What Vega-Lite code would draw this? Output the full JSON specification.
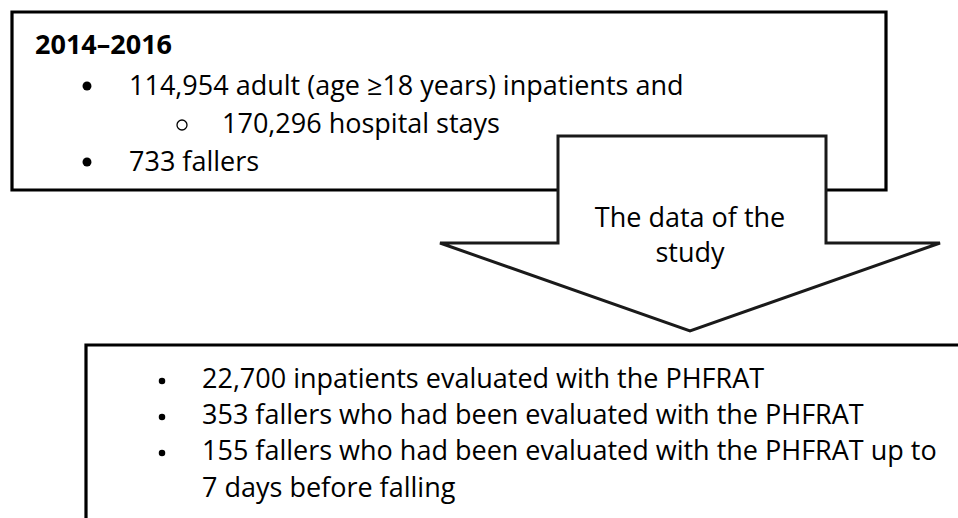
{
  "$schema": "https://vega.github.io/schema/vega-lite/v6.json",
  "width": 958,
  "height": 518,
  "autosize": {"type": "fit", "contains": "padding"},
  "padding": 0,
  "background": "white",
  "config": {"view": {"stroke": null}},
  "encoding": {
    "x": {"field": "x", "type": "quantitative", "scale": {"domain": [0, 958], "nice": false, "zero": false}, "axis": null},
    "y": {"field": "y", "type": "quantitative", "scale": {"domain": [0, 518], "nice": false, "zero": false, "reverse": true}, "axis": null}
  },
  "layer": [
    {
      "data": {"values": [{"x": 12, "x2": 886, "y": 12, "y2": 190}]},
      "mark": {"type": "rect", "fill": "white", "stroke": "black", "strokeWidth": 3.2},
      "encoding": {"x2": {"field": "x2"}, "y2": {"field": "y2"}}
    },
    {
      "data": {"values": [{"x": 86, "x2": 975, "y": 345, "y2": 540}]},
      "mark": {"type": "rect", "fill": "white", "stroke": "black", "strokeWidth": 3.2, "clip": true},
      "encoding": {"x2": {"field": "x2"}, "y2": {"field": "y2"}}
    },
    {
      "data": {"values": [{"x": 558, "x2": 826, "y": 136, "y2": 244}]},
      "mark": {"type": "rect", "fill": "white", "strokeWidth": 0},
      "encoding": {"x2": {"field": "x2"}, "y2": {"field": "y2"}}
    },
    {
      "data": {"values": [
        {"x": 440, "y": 243, "y2": 243},
        {"x": 690, "y": 243, "y2": 331},
        {"x": 940, "y": 243, "y2": 243}
      ]},
      "mark": {"type": "area", "fill": "white", "opacity": 1},
      "encoding": {"y2": {"field": "y2"}}
    },
    {
      "data": {"values": [
        {"o": 1, "x": 558, "y": 136},
        {"o": 2, "x": 826, "y": 136},
        {"o": 3, "x": 826, "y": 243},
        {"o": 4, "x": 940, "y": 243},
        {"o": 5, "x": 690, "y": 331},
        {"o": 6, "x": 440, "y": 243},
        {"o": 7, "x": 558, "y": 243},
        {"o": 8, "x": 558, "y": 136}
      ]},
      "mark": {"type": "line", "stroke": "#1a1a1a", "strokeWidth": 3, "strokeJoin": "miter", "strokeCap": "square"},
      "encoding": {"order": {"field": "o", "type": "quantitative"}}
    },
    {
      "data": {"values": [
        {"t": "114,954 adult (age ≥18 years) inpatients and", "x": 129, "y": 95},
        {"t": "170,296 hospital stays", "x": 222, "y": 133},
        {"t": "733 fallers", "x": 129, "y": 171},
        {"t": "22,700 inpatients evaluated with the PHFRAT", "x": 202, "y": 388},
        {"t": "353 fallers who had been evaluated with the PHFRAT", "x": 202, "y": 424},
        {"t": "155 fallers who had been evaluated with the PHFRAT up to", "x": 202, "y": 460},
        {"t": "7 days before falling", "x": 202, "y": 497}
      ]},
      "mark": {"type": "text", "align": "left", "baseline": "alphabetic", "font": "Open Sans", "fontSize": 27, "color": "black"},
      "encoding": {"text": {"field": "t"}}
    },
    {
      "data": {"values": [{"t": "2014–2016", "x": 35, "y": 54}]},
      "mark": {"type": "text", "align": "left", "baseline": "alphabetic", "font": "Open Sans", "fontSize": 27, "fontWeight": "bold", "color": "black"},
      "encoding": {"text": {"field": "t"}}
    },
    {
      "data": {"values": [
        {"t": "The data of the", "x": 690, "y": 227},
        {"t": "study", "x": 690, "y": 262}
      ]},
      "mark": {"type": "text", "align": "center", "baseline": "alphabetic", "font": "Open Sans", "fontSize": 27, "color": "black"},
      "encoding": {"text": {"field": "t"}}
    },
    {
      "data": {"values": [{"x": 87, "y": 86}, {"x": 87, "y": 162}]},
      "mark": {"type": "point", "shape": "circle", "filled": true, "size": 80, "color": "black", "opacity": 1}
    },
    {
      "data": {"values": [{"x": 162, "y": 381}, {"x": 162, "y": 417}, {"x": 162, "y": 453}]},
      "mark": {"type": "point", "shape": "circle", "filled": true, "size": 42, "color": "black", "opacity": 1}
    },
    {
      "data": {"values": [{"x": 182, "y": 125}]},
      "mark": {"type": "point", "shape": "circle", "filled": false, "size": 100, "color": "black", "strokeWidth": 1.3, "opacity": 1}
    }
  ]
}
